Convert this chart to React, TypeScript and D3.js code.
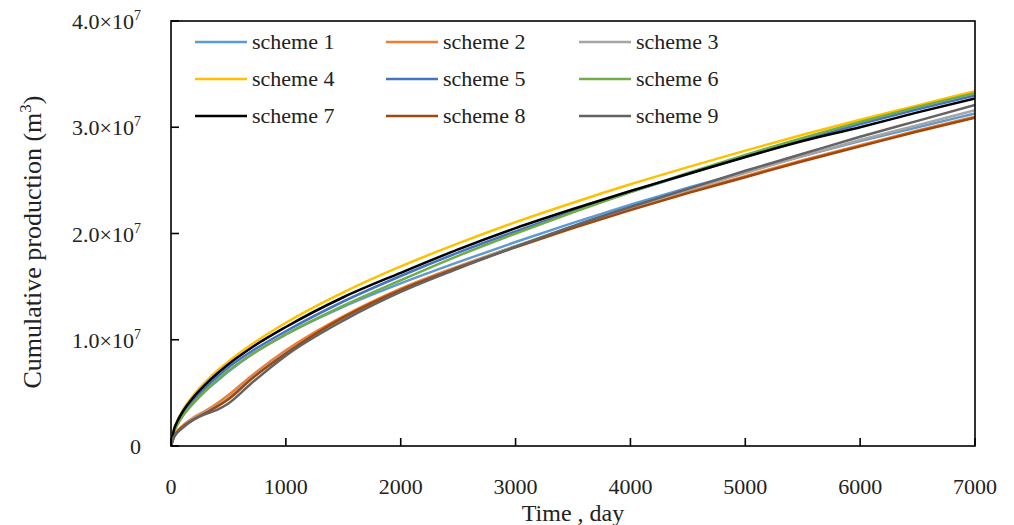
import React from "react";
import * as d3 from "d3";

const times = [0, 25, 50, 100, 200, 300, 400, 500, 700, 1000, 1500, 2000, 2500, 3000, 3500, 4000, 4500, 5000, 5500, 6000, 6500, 7000];

// values in units of 1e7 m3
const scheme1 = [0, 0.13, 0.19, 0.28, 0.41, 0.52, 0.61, 0.70, 0.86, 1.05, 1.31, 1.53, 1.73, 1.92, 2.10, 2.27, 2.43, 2.58, 2.73, 2.87, 3.00, 3.13];
const scheme2 = [0, 0.09, 0.135, 0.19, 0.27, 0.33, 0.40, 0.48, 0.66, 0.90, 1.22, 1.48, 1.69, 1.88, 2.06, 2.23, 2.39, 2.54, 2.69, 2.83, 2.97, 3.10];
const scheme3 = [0, 0.085, 0.125, 0.18, 0.26, 0.32, 0.38, 0.45, 0.64, 0.88, 1.20, 1.47, 1.685, 1.88, 2.07, 2.245, 2.41, 2.57, 2.73, 2.88, 3.02, 3.16];
const scheme4 = [0, 0.157, 0.228, 0.332, 0.484, 0.603, 0.706, 0.796, 0.955, 1.16, 1.446, 1.69, 1.907, 2.107, 2.29, 2.463, 2.625, 2.78, 2.93, 3.07, 3.205, 3.34];
const scheme5 = [0, 0.14, 0.21, 0.30, 0.44, 0.55, 0.65, 0.74, 0.89, 1.08, 1.36, 1.60, 1.82, 2.02, 2.21, 2.39, 2.56, 2.72, 2.88, 3.03, 3.17, 3.30];
const scheme6 = [0, 0.13, 0.19, 0.28, 0.41, 0.52, 0.62, 0.71, 0.86, 1.05, 1.32, 1.56, 1.79, 2.00, 2.20, 2.39, 2.57, 2.74, 2.90, 3.05, 3.19, 3.32];
const scheme7 = [0, 0.15, 0.22, 0.32, 0.465, 0.58, 0.68, 0.77, 0.925, 1.12, 1.40, 1.63, 1.85, 2.05, 2.23, 2.40, 2.56, 2.72, 2.87, 3.00, 3.14, 3.27];
const scheme8 = [0, 0.085, 0.125, 0.18, 0.25, 0.31, 0.37, 0.44, 0.63, 0.87, 1.21, 1.47, 1.68, 1.87, 2.05, 2.22, 2.38, 2.53, 2.68, 2.82, 2.96, 3.09];
const scheme9 = [0, 0.08, 0.12, 0.17, 0.25, 0.30, 0.34, 0.40, 0.59, 0.85, 1.18, 1.45, 1.67, 1.875, 2.07, 2.25, 2.42, 2.59, 2.75, 2.91, 3.06, 3.21];

const seriesNames = ["scheme 1", "scheme 2", "scheme 3", "scheme 4", "scheme 5", "scheme 6", "scheme 7", "scheme 8", "scheme 9"];
const seriesValues = [scheme1, scheme2, scheme3, scheme4, scheme5, scheme6, scheme7, scheme8, scheme9];
const seriesColors = ["#5B9BD5", "#ED7D31", "#A5A5A5", "#FFC000", "#4472C4", "#70AD47", "#000000", "#9E480E", "#636363"];

const xTicks = [0, 1000, 2000, 3000, 4000, 5000, 6000, 7000];
const yTicks = [0, 1e7, 2e7, 3e7, 4e7];
const yTickMantissa = ["0", "1.0", "2.0", "3.0", "4.0"];

const FONT = "'Liberation Serif', 'Times New Roman', serif";

export default function App() {
  const W = 1014, H = 525;
  const left = 171, right = 975, top = 21, bottom = 446;
  const x = d3.scaleLinear().domain([0, 7000]).range([left, right]);
  const y = d3.scaleLinear().domain([0, 4e7]).range([bottom, top]);
  const line = d3
    .line<[number, number]>()
    .x((d) => x(d[0]))
    .y((d) => y(d[1] * 1e7))
    .curve(d3.curveMonotoneX);

  const legendCols = [195, 386, 579];
  const legendRows = [42, 79, 116];

  return (
    <svg width={W} height={H} style={{ position: "absolute", left: 0, top: 0, background: "#fff" }} fontFamily={FONT}>
      <rect x={0} y={0} width={W} height={H} fill="#fff" />
      <defs>
        <clipPath id="plot">
          <rect x={left} y={top} width={right - left} height={bottom - top} />
        </clipPath>
      </defs>
      <g clipPath="url(#plot)">
        {seriesValues.map((vals, i) => (
          <path
            key={i}
            d={line(times.map((t, j) => [t, vals[j]] as [number, number])) || ""}
            fill="none"
            stroke={seriesColors[i]}
            strokeWidth={2.5}
          />
        ))}
      </g>
      {/* frame */}
      <rect x={left} y={top} width={right - left} height={bottom - top} fill="none" stroke="#000" strokeWidth={1.6} />
      {/* y ticks */}
      {yTicks.map((v, i) => (
        <g key={"y" + i}>
          <line x1={left} x2={left + 8} y1={y(v)} y2={y(v)} stroke="#000" strokeWidth={1.6} />
          {i === 0 ? (
            <text x={141} y={y(v) + 8} textAnchor="end" fontSize={22} fill="#222">0</text>
          ) : (
            <text x={141} y={y(v) + 8} textAnchor="end" fontSize={22} fill="#222">
              {yTickMantissa[i]}×10<tspan dy={-9} fontSize={14}>7</tspan>
            </text>
          )}
        </g>
      ))}
      {/* x ticks */}
      {xTicks.map((v, i) => (
        <g key={"x" + i}>
          <line x1={x(v)} x2={x(v)} y1={bottom} y2={bottom - 8} stroke="#000" strokeWidth={1.6} />
          <text x={x(v)} y={494} textAnchor="middle" fontSize={22} fill="#222">{v}</text>
        </g>
      ))}
      <text x={(left + right) / 2} y={521} textAnchor="middle" fontSize={24} fill="#222">Time , day</text>
      <text transform={`translate(41, 242) rotate(-90)`} textAnchor="middle" fontSize={26} fill="#222">
        Cumulative production (m<tspan dy={-10} fontSize={17}>3</tspan><tspan dy={10}>)</tspan>
      </text>
      {/* legend */}
      {seriesNames.map((name, i) => {
        const cx = legendCols[i % 3];
        const cy = legendRows[Math.floor(i / 3)];
        return (
          <g key={"l" + i}>
            <line x1={cx} x2={cx + 52} y1={cy} y2={cy} stroke={seriesColors[i]} strokeWidth={2.5} />
            <text x={cx + 57} y={cy + 7} fontSize={22} fill="#222">{name}</text>
          </g>
        );
      })}
    </svg>
  );
}
